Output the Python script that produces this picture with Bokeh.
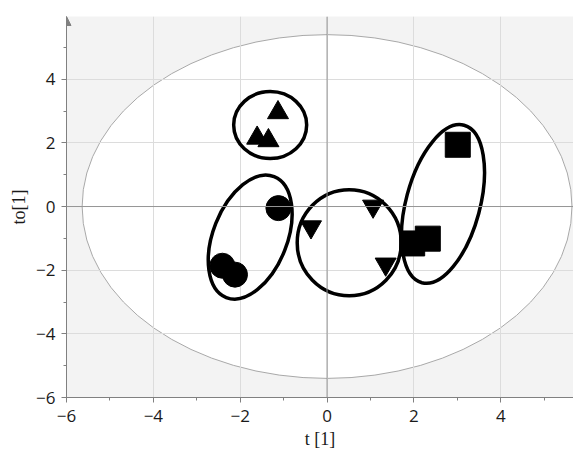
import numpy as np
from bokeh.plotting import figure
from bokeh.models import Span, Arrow, NormalHead, SingleIntervalTicker, Range1d
from bokeh.core.properties import value
from bokeh.embed import file_html
from bokeh.resources import INLINE

# ---- data ----
circle_x = [-1.12, -2.41, -2.12]
circle_y = [-0.05, -1.86, -2.14]
triangle_x = [-1.13, -1.61, -1.35]
triangle_y = [2.95, 2.15, 2.07]
invtri_x = [-0.37, 1.06, 1.35]
invtri_y = [-0.64, 0.01, -1.81]
square_x = [1.96, 2.32, 3.01]
square_y = [-1.16, -1.01, 1.94]

# group outlines: centre (data), width/height (screen px), angle (deg)
group_cx = [-1.31, -1.77, 0.51, 2.67]
group_cy = [2.56, -0.96, -1.14, 0.08]
group_w = [73, 130, 104, 163]
group_h = [67, 74, 106, 74]
group_angle = [0, 68.4, 0, 75]

# Hotelling T2 ellipse semi-axes
t2_a = 5.64
t2_b = 5.40

x_ticks_interval = 2
y_ticks_interval = 2

p = figure(width=573, height=451, output_backend="svg", toolbar_location=None,
           x_range=Range1d(-6, 5.675), y_range=Range1d(-6, 5.97),
           min_border_left=66, min_border_right=0, min_border_top=16,
           min_border_bottom=50)
p.background_fill_color = "#f3f3f3"
p.border_fill_color = "white"
p.outline_line_color = None

# Hotelling ellipse (below grid)
p.ellipse(x=[0], y=[0], width=[2 * t2_a], height=[2 * t2_b],
          fill_color="white", line_color="#a8a8a8", line_width=1, level="image")

for ax, interval in ((p.xaxis[0], x_ticks_interval), (p.yaxis[0], y_ticks_interval)):
    ax.ticker = SingleIntervalTicker(interval=interval, num_minor_ticks=2)
    ax.axis_line_color = "#808080"
    ax.major_tick_line_color = "#808080"
    ax.minor_tick_line_color = "#808080"
    ax.major_tick_out = 5
    ax.major_tick_in = 0
    ax.minor_tick_out = 3
    ax.minor_tick_in = 0
    ax.major_label_text_font = "Open Sans"
    ax.major_label_text_font_size = "17px"
    ax.major_label_text_color = "#1a1a1a"
    ax.axis_label_text_font = "Liberation Serif"
    ax.axis_label_text_font_size = "18px"
    ax.axis_label_text_font_style = "normal"
    ax.axis_label_text_color = "#1a1a1a"

p.xaxis.axis_label = "t [1]"
p.yaxis.axis_label = "to[1]"
p.xaxis.major_label_standoff = 7
p.xaxis.axis_label_standoff = 4
p.yaxis.major_label_standoff = 6
p.yaxis.axis_label_standoff = 4

p.xgrid.ticker = SingleIntervalTicker(interval=x_ticks_interval)
p.ygrid.ticker = SingleIntervalTicker(interval=y_ticks_interval)
p.grid.grid_line_color = "#dcdcdc"
p.grid.grid_line_width = 1

p.add_layout(Span(location=0, dimension="height", line_color="#969696", line_width=1))
p.add_layout(Span(location=0, dimension="width", line_color="#969696", line_width=1))

# group ellipses
p.ellipse(x=group_cx, y=group_cy, width=group_w, height=group_h,
          angle=group_angle, angle_units="deg",
          width_units="screen", height_units="screen",
          fill_color=None, line_color="black", line_width=3.5)

# markers
p.scatter(circle_x, circle_y, marker="circle", size=25, color="black")
p.scatter(triangle_x, triangle_y, marker="triangle", size=21, color="black")
p.scatter(invtri_x, invtri_y, marker="inverted_triangle", size=21, color="black")
p.scatter(square_x, square_y, marker="square", size=25, color="black")

# arrow head on y axis
p.add_layout(Arrow(end=NormalHead(size=9, fill_color="#808080", line_color="#808080"),
                   x_start=-6, y_start=5.5, x_end=-6, y_end=5.97,
                   line_color="#808080", line_width=1))

open("out.html", "w").write(file_html(p, INLINE))
